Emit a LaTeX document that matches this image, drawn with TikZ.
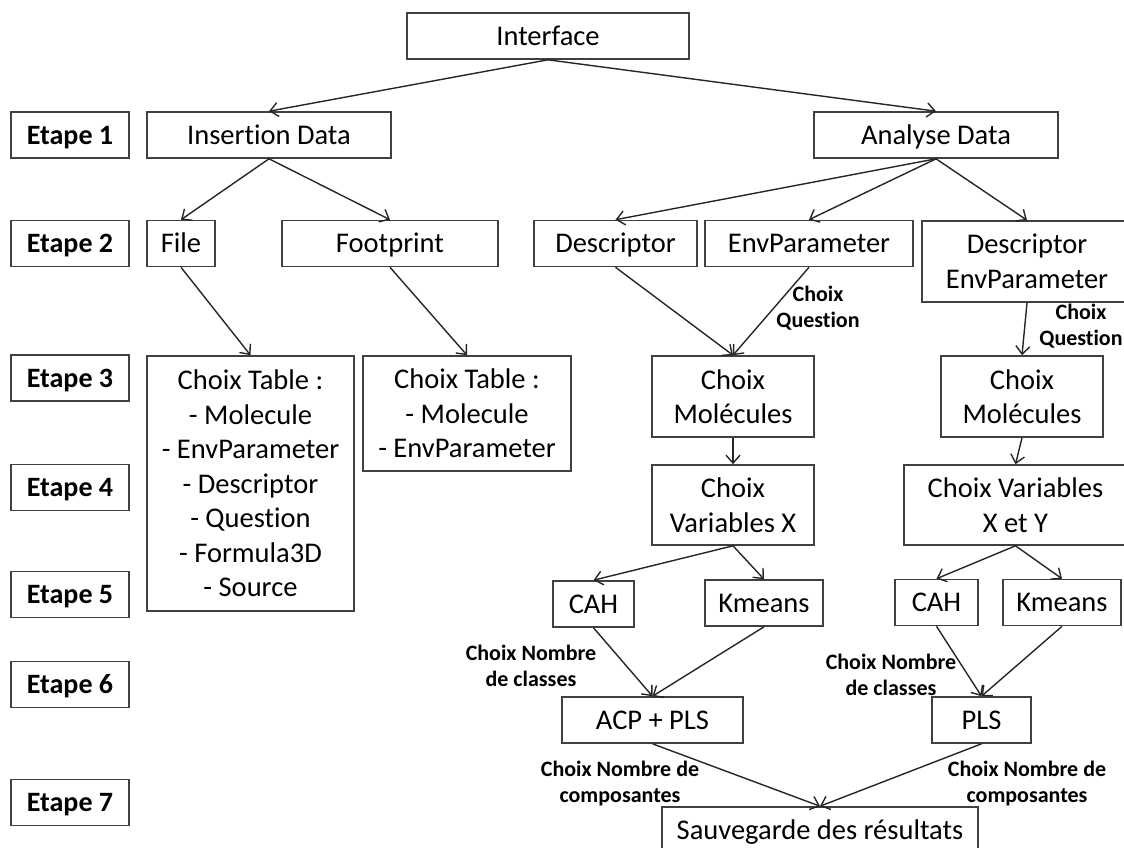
\documentclass[tikz,border=0pt]{standalone}
\usepackage{fontspec}
\setmainfont{Carlito}[Ligatures=NoCommon]
\usetikzlibrary{positioning,arrows.meta}
\tikzset{
  box/.style={draw=black!75, line width=1.6pt, inner sep=0pt, align=center,
              font=\fontsize{28.5}{34.5}\selectfont},
  oneline/.style={text height=23pt, text depth=5pt, minimum height=46pt},
  etape/.style={box, oneline, font=\fontsize{28}{34.5}\selectfont\bfseries, minimum width=118pt},
  note/.style={align=center, inner sep=0pt, font=\fontsize{22}{26}\selectfont\bfseries},
  fwd/.style={-{Straight Barb[length=8pt,width=14pt]}, line width=1.4pt, black!85}, % open tips
}
\begin{document}
\begin{tikzpicture}[x=1pt, y=-1pt]
  \useasboundingbox (0,0) rectangle (1124,847);

  \node[etape] (etape1) at (70,135) {Etape 1};
  \node[etape] (etape2) at (70,243.5) {Etape 2};
  \node[etape] (etape3) at (70,378) {Etape 3};
  \node[etape] (etape4) at (70,487.5) {Etape 4};
  \node[etape] (etape5) at (70,594.5) {Etape 5};
  \node[etape] (etape6) at (70,684.5) {Etape 6};
  \node[etape] (etape7) at (70,802.5) {Etape 7};

  \node[box, oneline, minimum width=282pt] (iface) at (548,36) {Interface};
  \node[box, oneline, minimum width=244pt] (insert) at (269,135) {Insertion Data};
  \node[box, oneline, minimum width=244pt] (analyse) at (936,135) {Analyse Data};
  \node[box, oneline, minimum width=68pt] (file) at (181,243.5) {File};
  \node[box, oneline, minimum width=216pt] (footprint) at (390,243.5) {Footprint};
  \node[box, oneline, minimum width=163pt] (desc) at (615.5,243.5) {Descriptor};
  \node[box, oneline, minimum width=208pt] (env) at (809,243.5) {EnvParameter};
  \node[box, minimum width=210pt, minimum height=81pt] (descenv) at (1027,261.5) {Descriptor\\EnvParameter};
  \node[box, minimum width=207pt, minimum height=255pt] (table1) at (250.5,483.5)
    {Choix Table :\\- Molecule\\- EnvParameter\\- Descriptor\\- Question\\- Formula3D\\- Source};
  \node[box, minimum width=208pt, minimum height=115pt] (table2) at (467,413.5)
    {Choix Table :\\- Molecule\\- EnvParameter};
  \node[box, minimum width=162pt, minimum height=81pt] (mol1) at (733,396.5) {Choix\\Molécules};
  \node[box, minimum width=162pt, minimum height=81pt] (mol2) at (1022,396.5) {Choix\\Molécules};
  \node[box, minimum width=162pt, minimum height=80pt] (varx) at (733,505) {Choix\\Variables X};
  \node[box, minimum width=223pt, minimum height=80pt] (varxy) at (1015.5,505) {Choix Variables\\X et Y};
  \node[box, oneline, minimum width=81pt] (cah1) at (593.5,604) {CAH};
  \node[box, oneline, minimum width=118pt] (kmeans1) at (764,603) {Kmeans};
  \node[box, oneline, minimum width=83pt] (cah2) at (936.5,602.5) {CAH};
  \node[box, oneline, minimum width=118pt] (kmeans2) at (1062,602.5) {Kmeans};
  \node[box, oneline, minimum width=181pt] (acp) at (652.5,720) {ACP + PLS};
  \node[box, oneline, minimum width=99pt] (pls) at (981.5,720) {PLS};
  \node[box, oneline, minimum width=316pt] (save) at (820,830) {Sauvegarde des résultats};

  \node[note] (quest1) at (818,308) {Choix\\Question};
  \node[note] (quest2) at (1081,326.5) {Choix\\Question};
  \node[note] (classes1) at (531,666) {Choix Nombre\\de classes};
  \node[note] (classes2) at (891,675) {Choix Nombre\\de classes};
  \node[note] (comp1) at (620,783.5) {Choix Nombre de\\composantes};
  \node[note] (comp2) at (1027,783.5) {Choix Nombre de\\composantes};

  \draw[fwd] (iface.south) -- (insert.north);
  \draw[fwd] (iface.south) -- (analyse.north);
  \draw[fwd] (insert.south) -- (file.north);
  \draw[fwd] (insert.south) -- (footprint.north);
  \draw[fwd] (analyse.south) -- (desc.north);
  \draw[fwd] (analyse.south) -- (env.north);
  \draw[fwd] (analyse.south) -- (descenv.north);
  \draw[fwd] (file.south) -- (table1.north);
  \draw[fwd] (footprint.south) -- (table2.north);
  \draw[fwd] (desc.south) -- (mol1.north);
  \draw[fwd] (env.south) -- (mol1.north);
  \draw[fwd] (descenv.south) -- (mol2.north);
  \draw[fwd] (mol1.south) -- (varx.north);
  \draw[fwd] (mol2.south) -- (varxy.north);
  \draw[fwd] (varx.south) -- (cah1.north);
  \draw[fwd] (varx.south) -- (kmeans1.north);
  \draw[fwd] (varxy.south) -- (cah2.north);
  \draw[fwd] (varxy.south) -- (kmeans2.north);
  \draw[fwd] (cah1.south) -- (acp.north);
  \draw[fwd] (kmeans1.south) -- (acp.north);
  \draw[fwd] (cah2.south) -- (pls.north);
  \draw[fwd] (kmeans2.south) -- (pls.north);
  \draw[fwd] (acp.south) -- (save.north);
  \draw[fwd] (pls.south) -- (save.north);
\end{tikzpicture}
\end{document}
